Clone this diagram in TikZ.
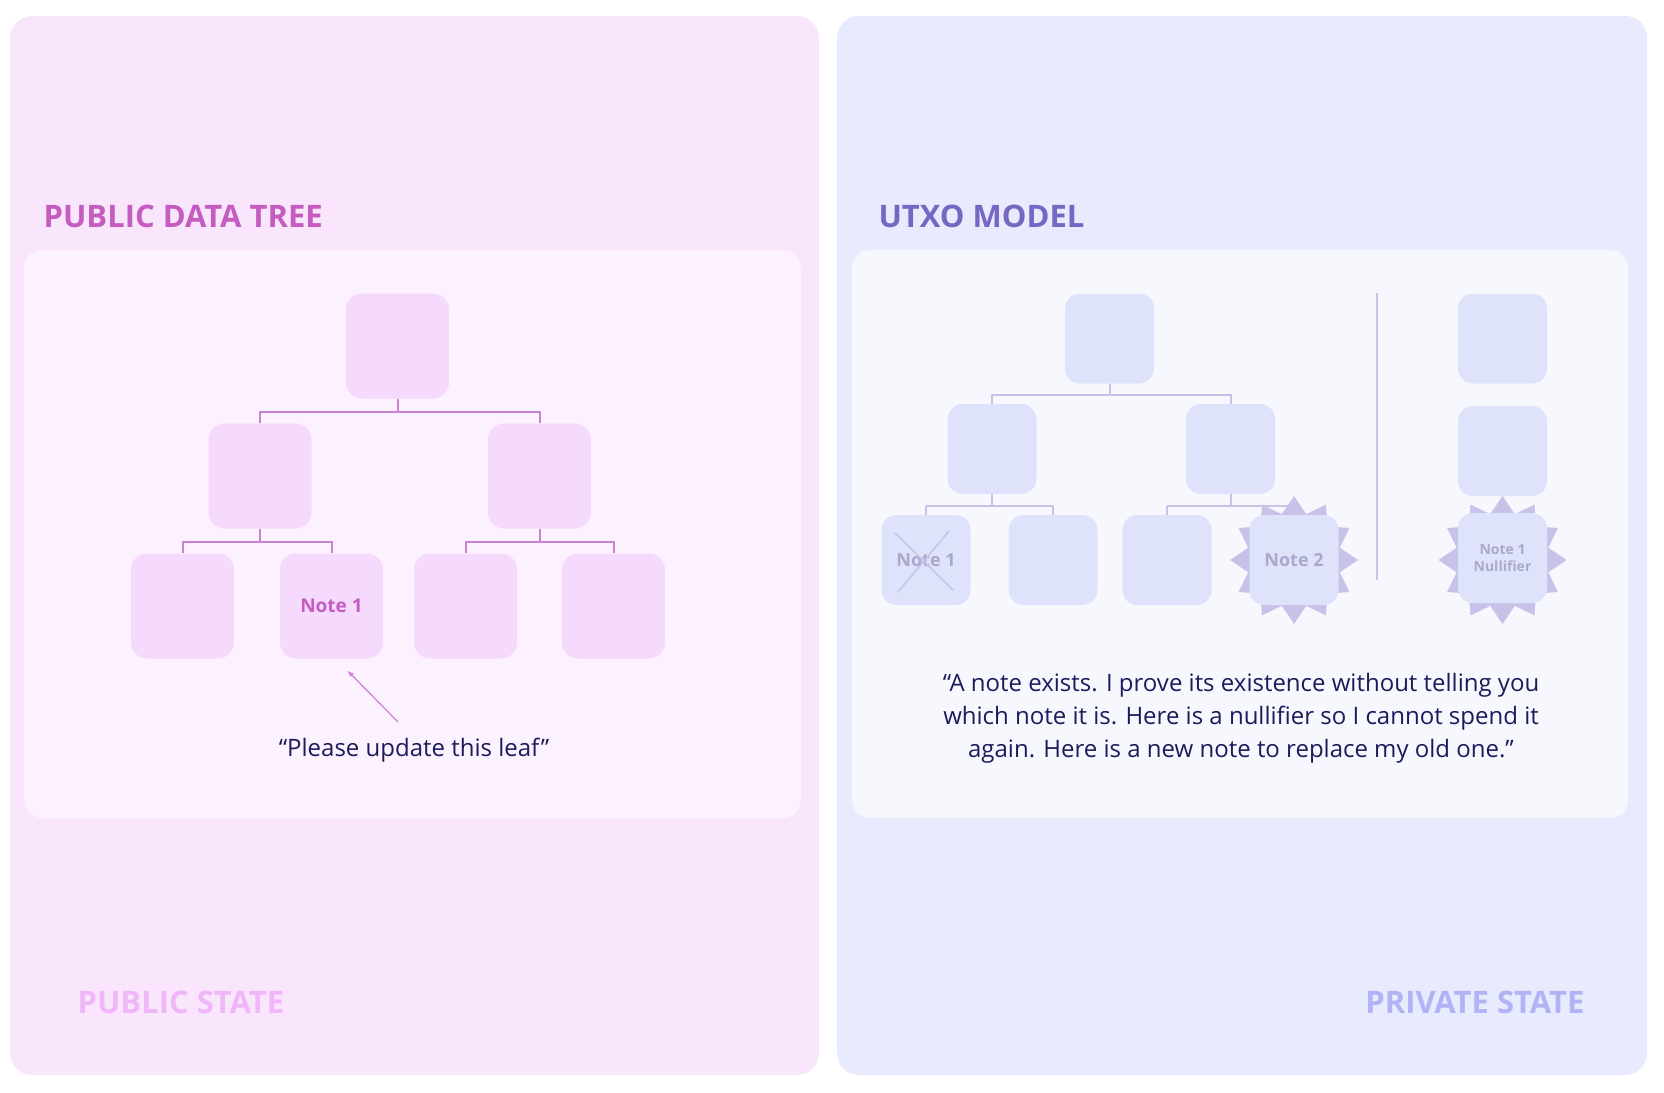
\documentclass[tikz,border=0pt]{standalone}
\usepackage{fontspec}
\setmainfont{Open Sans}
\usetikzlibrary{shapes.geometric}

\definecolor{pubbg}{HTML}{F9E6FD}
\definecolor{pubinner}{HTML}{FCF1FE}
\definecolor{publeaf}{HTML}{F5DAFD}
\definecolor{publine}{HTML}{CB82D3}
\definecolor{pubtitle}{HTML}{C55DC1}
\definecolor{pubfoot}{HTML}{F0B6F9}
\definecolor{privbg}{HTML}{E8EBFE}
\definecolor{privinner}{HTML}{F7F8FE}
\definecolor{privleaf}{HTML}{DEE3FB}
\definecolor{privline}{HTML}{C6C2E8}
\definecolor{privtitle}{HTML}{7667C3}
\definecolor{privnote}{HTML}{ABA8CE}
\definecolor{privfoot}{HTML}{B1B3F6}
\definecolor{navy}{HTML}{1C1B5B}

\tikzset{
  pubbox/.style={fill=publeaf, rounded corners=16pt, minimum width=103pt, minimum height=105pt,
    inner sep=0pt, text=pubtitle, font=\bfseries\fontsize{19}{22}\selectfont},
  privbox/.style={fill=privleaf, rounded corners=15pt, minimum width=89pt, minimum height=90pt,
    inner sep=0pt, text=privnote, font=\bfseries\fontsize{18}{22}\selectfont, align=center},
  publink/.style={draw=publine, line width=2pt},
  privlink/.style={draw=privline, line width=2pt},
  burst/.style={star, star points=12, star point ratio=1.35, minimum size=128pt,
    fill=privline, inner sep=0pt},
  quote/.style={text=navy, font=\fontsize{24}{33}\selectfont, align=center},
  paneltitle/.style={anchor=base west, font=\bfseries\fontsize{31}{38}\selectfont},
  panelfoot/.style={font=\bfseries\fontsize{31}{38}\selectfont},
}

\begin{document}
\begin{tikzpicture}[x=1pt,y=-1pt]
  \tikzset{>=latex}
  \useasboundingbox[fill=white] (0,0) rectangle (1664,1092);

  % panels
  \fill[pubbg, rounded corners=22pt] (10,16) rectangle (819,1075);
  \fill[privbg, rounded corners=22pt] (837,16) rectangle (1647,1075);
  \fill[pubinner, rounded corners=18pt] (24,250) rectangle (801,818);
  \fill[privinner, rounded corners=18pt] (852,250) rectangle (1628,818);

  \node[paneltitle, text=pubtitle] (pubhead) at (40,227) {PUBLIC DATA TREE};
  \node[paneltitle, text=privtitle] (privhead) at (875,227) {UTXO MODEL};
  \node[panelfoot, anchor=base west, text=pubfoot] (pubfoot) at (74,1013) {PUBLIC STATE};
  \node[panelfoot, anchor=base east, text=privfoot] (privfoot) at (1588,1013) {PRIVATE STATE};

  % public tree
  \node[pubbox] (proot) at (397.5,346) {};
  \node[pubbox] (pa) at (260,476) {};
  \node[pubbox] (pb) at (539.5,476) {};
  \node[pubbox] (paa) at (182.5,606) {};
  \node[pubbox] (pab) at (331.5,606) {Note 1};
  \node[pubbox] (pba) at (465.5,606) {};
  \node[pubbox] (pbb) at (613.5,606) {};

  \draw[publink] (proot.south) -- ++(0,13);
  \draw[publink] (pa.north) -- ++(0,-11) -| (pb.north);
  \draw[publink] (pa.south) -- ++(0,13);
  \draw[publink] (paa.north) -- ++(0,-11) -| (pab.north);
  \draw[publink] (pb.south) -- ++(0,13);
  \draw[publink] (pba.north) -- ++(0,-11) -| (pbb.north);

  \coordinate (ask) at (398,722);
  \draw[draw=publine, line width=1.2pt, ->] (ask) -- ([shift={(16,12)}]pab.south);
  \node[quote] (pubquote) at (414,750) {“Please update this leaf”};

  % private tree
  \node[privbox] (qroot) at (1109.5,338.5) {};
  \node[privbox] (qa) at (992,449) {};
  \node[privbox] (qb) at (1230.5,449) {};
  \draw[privlink] (qroot.south) -- ++(0,11);
  \draw[privlink] (qa.north) -- ++(0,-9) -| (qb.north);
  \draw[privlink] (qa.south) -- ++(0,12);
  \draw[privlink] (qb.south) -- ++(0,12);
  \draw[privlink] (926,506) -- (1053,506) -- ++(0,9);
  \draw[privlink] (926,506) -- ++(0,9);
  \draw[privlink] (1167,506) -- (1294,506);
  \draw[privlink] (1167,506) -- ++(0,9);

  \node[burst] (newstar) at (1294,560) {};
  \node[privbox] (qaa) at (926,560) {Note 1};
  \node[privbox] (qab) at (1053,560) {};
  \node[privbox] (qba) at (1167,560) {};
  \node[privbox] (qbb) at (1294,560) {Note 2};
  \draw[draw=privline, line width=1.5pt] ([shift={(-31,-27)}]qaa.center) -- ([shift={(27,30)}]qaa.center);
  \draw[draw=privline, line width=1.5pt] ([shift={(23,-29)}]qaa.center) -- ([shift={(-28,32)}]qaa.center);

  % nullifier column
  \coordinate (septop) at (1377,293);
  \coordinate (sepbot) at (1377,580);
  \draw[draw=privline, line width=1.5pt] (septop) -- (sepbot);
  \node[privbox] (ntop) at (1502.5,338.5) {};
  \node[privbox] (nmid) at (1502.5,451) {};
  \node[burst] (nulstar) at (1502.5,560) {};
  \node[privbox, font=\bfseries\fontsize{14}{17}\selectfont] (nul) at (1502.5,558) {Note 1\\Nullifier};

  \node[quote] (privquote) at (1241,718) {“A note exists. I prove its existence without telling you\\
    which note it is. Here is a nullifier so I cannot spend it\\
    again. Here is a new note to replace my old one.”};
\end{tikzpicture}
\end{document}
